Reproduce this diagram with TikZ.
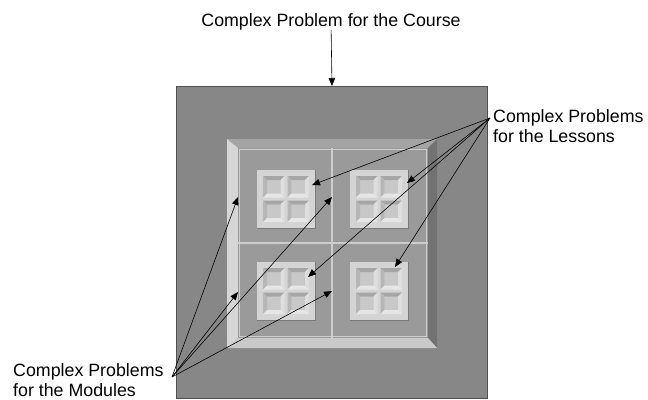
\documentclass[tikz,border=0pt]{standalone}
\usepackage{fontspec}
\setmainfont{Liberation Sans}
\usetikzlibrary{arrows.meta}
\definecolor{outerbg}{HTML}{878787}
\definecolor{edgegray}{HTML}{505050}
\definecolor{bevleft}{HTML}{D6D6D6}
\definecolor{bevtop}{HTML}{A4A4A4}
\definecolor{bevright}{HTML}{727272}
\definecolor{bevbottom}{HTML}{CACACA}
\definecolor{panel}{HTML}{9A9A9A}
\definecolor{panelline}{HTML}{CDCDCD}
\definecolor{tileframe}{HTML}{D4D4D4}
\definecolor{tileshadow}{HTML}{7A7A7A}
\definecolor{cface}{HTML}{C8C8C8}
\definecolor{ctop}{HTML}{A6A6A6}
\definecolor{cleft}{HTML}{B6B6B6}
\definecolor{cright}{HTML}{DEDEDE}
\definecolor{cbottom}{HTML}{E6E6E6}
\tikzset{
  labeltext/.style={font=\fontsize{17.8}{20}\selectfont, inner sep=0pt, align=left, text=black},
  pointer/.style={draw=black, line width=0.6pt, -{Triangle[length=8pt,width=6.5pt]}},
  tile/.pic={
    \fill[tileframe] (0,0) rectangle (58,58);
    \draw[tileshadow, line width=0.8pt] (58,0) -- (58,58) -- (0,58);
    \foreach \cx/\cy in {6/6, 30.5/6, 6/30.5, 30.5/30.5} {
      \fill[cface] (\cx+4,\cy+4) rectangle (\cx+17.5,\cy+17.5);
      \fill[ctop] (\cx,\cy) -- (\cx+21.5,\cy) -- (\cx+17.5,\cy+4) -- (\cx+4,\cy+4) -- cycle;
      \fill[cleft] (\cx,\cy) -- (\cx+4,\cy+4) -- (\cx+4,\cy+17.5) -- (\cx,\cy+21.5) -- cycle;
      \fill[cright] (\cx+21.5,\cy) -- (\cx+21.5,\cy+21.5) -- (\cx+17.5,\cy+17.5) -- (\cx+17.5,\cy+4) -- cycle;
      \fill[cbottom] (\cx,\cy+21.5) -- (\cx+21.5,\cy+21.5) -- (\cx+17.5,\cy+17.5) -- (\cx+4,\cy+17.5) -- cycle;
    }
  }
}
\begin{document}
\begin{tikzpicture}[x=1pt,y=-1pt]
\useasboundingbox (0,0) rectangle (648,399);
\fill[white] (0,0) rectangle (648,399);

% outer square (course)
\node[draw=edgegray, fill=outerbg, line width=1pt, minimum width=311pt,
      minimum height=312pt, inner sep=0pt, anchor=north west] (outer) at (176,86) {};

% frame bevels
\fill[bevtop] (227,139) -- (437,139) -- (428,148) -- (238,148) -- cycle;
\fill[bevleft] (227,139) -- (238,148) -- (238,338) -- (227,348) -- cycle;
\fill[bevright] (437,139) -- (437,348) -- (428,338) -- (428,148) -- cycle;
\fill[bevbottom] (227,348) -- (437,348) -- (428,338) -- (238,338) -- cycle;

% panel with four modules
\fill[panel] (238,148) rectangle (428,338);
\draw[panelline, line width=1.5pt] (239.5,149.5) rectangle (426.5,336.5);
\draw[panelline, line width=1.5pt] (332,148) -- (332,338);
\draw[panelline, line width=1.5pt] (238,243) -- (428,243);

% lesson tiles
\pic at (257,170) {tile};
\pic at (350,170) {tile};
\pic at (257,262) {tile};
\pic at (350,262) {tile};

% labels
\node[labeltext, anchor=north] (course) at (331,13) {Complex Problem for the Course};
\node[labeltext, anchor=north west] (lessons) at (493,109) {Complex Problems\\for the Lessons};
\node[labeltext, anchor=north west] (modules) at (13,363) {Complex Problems\\for the Modules};

% connector ends
\coordinate (lsrc) at (490,118);
\coordinate (msrc) at (172,377);
\coordinate (l1) at (312,185);
\coordinate (l2) at (407,183);
\coordinate (l3) at (308,277);
\coordinate (l4) at (395,267);
\coordinate (m1) at (238,197);
\coordinate (m2) at (332,197);
\coordinate (m3) at (238,292);
\coordinate (m4) at (332,291);

% connectors
\draw[pointer] (course) -- (outer.north);
\foreach \t in {l1,l2,l3,l4} \draw[pointer] (lsrc) -- (\t);
\foreach \t in {m1,m2,m3,m4} \draw[pointer] (msrc) -- (\t);
\end{tikzpicture}
\end{document}
